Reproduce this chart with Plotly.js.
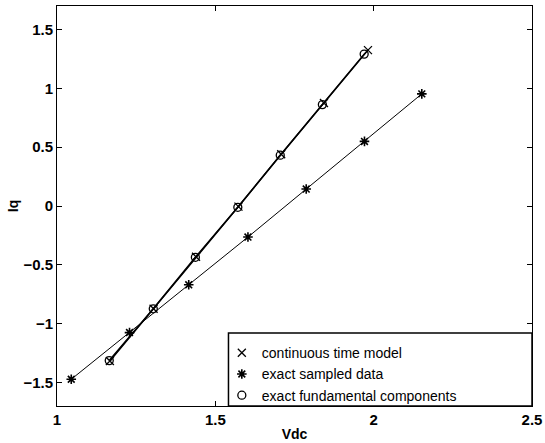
<!DOCTYPE html>
<html>
<head>
<meta charset="utf-8">
<script src="https://cdn.plot.ly/plotly-3.0.1.min.js"></script>
<style>
  html, body { margin: 0; padding: 0; background: #fff; }
  #plot { width: 545px; height: 443px; }
</style>
</head>
<body>
<div id="plot"></div>
<script>
// Iq versus Vdc for three ways of computing the converter response
const seriesNames = ['continuous time model', 'exact sampled data', 'exact fundamental components'];

// continuous time model
const vdcCont = [1.167, 1.305, 1.439, 1.573, 1.708, 1.843, 1.982];
const iqCont  = [-1.318, -0.873, -0.432, -0.005, 0.440, 0.876, 1.325];

// exact sampled data
const vdcSampled = [1.045, 1.229, 1.416, 1.603, 1.787, 1.971, 2.152];
const iqSampled  = [-1.473, -1.076, -0.670, -0.264, 0.144, 0.549, 0.953];

// exact fundamental components
const vdcFund = [1.165, 1.304, 1.437, 1.571, 1.705, 1.838, 1.970];
const iqFund  = [-1.314, -0.874, -0.436, -0.011, 0.432, 0.862, 1.291];

const xTicks = [1, 1.5, 2, 2.5];
const yTicks = [-1.5, -1, -0.5, 0, 0.5, 1, 1.5];

const FONT = 'Liberation Sans, Arial, Helvetica, sans-serif';

function lineTrace(x, y, w) {
  return { x: x, y: y, type: 'scatter', mode: 'lines',
           line: { color: '#000', width: w }, showlegend: false, hoverinfo: 'skip' };
}
function markerTrace(x, y, name, symbol, size, lw) {
  return { x: x, y: y, type: 'scatter', mode: 'markers', name: name,
           marker: { symbol: symbol, size: size, color: '#000',
                     line: { color: '#000', width: lw } } };
}

const traces = [
  lineTrace(vdcCont, iqCont, 1.5),
  lineTrace(vdcSampled, iqSampled, 1),
  lineTrace(vdcFund, iqFund, 1.5),
  markerTrace(vdcCont, iqCont, seriesNames[0], 'x-thin-open', 8, 1.3),
  markerTrace(vdcSampled, iqSampled, seriesNames[1], 'asterisk-open', 8, 1.6),
  markerTrace(vdcFund, iqFund, seriesNames[2], 'circle-open', 8, 1.3)
];

const axisCommon = {
  showgrid: false, zeroline: false,
  showline: true, linecolor: '#000', linewidth: 1, mirror: 'ticks',
  ticks: 'inside', ticklen: 5, tickwidth: 1, tickcolor: '#000',
  tickfont: { family: FONT, size: 15, color: '#000', weight: 'bold' }
};

const titleFont = { family: FONT, size: 14, color: '#000', weight: 'bold' };

const layout = {
  width: 545, height: 443,
  margin: { l: 57, r: 13, t: 6, b: 37 },
  paper_bgcolor: '#fff', plot_bgcolor: '#fff',
  font: { family: FONT, color: '#000' },
  xaxis: Object.assign({}, axisCommon, {
    range: [1, 2.5], tickvals: xTicks, ticktext: xTicks.map(String),
    title: { text: 'Vdc', font: titleFont, standoff: 2 }
  }),
  yaxis: Object.assign({}, axisCommon, {
    range: [-1.7, 1.7], tickvals: yTicks,
    ticktext: yTicks.map(v => (v < 0 ? '\u2212' + Math.abs(v) : String(v))),
    title: { text: 'Iq', font: titleFont, standoff: 1 }
  }),
  shapes: [{
    type: 'rect', xref: 'paper', yref: 'paper',
    x0: 0.361, x1: 1, y0: 0, y1: 0.1825,
    line: { color: '#000', width: 1.5 }, fillcolor: '#fff', layer: 'above'
  }],
  legend: {
    x: 0.347, xanchor: 'left', y: 0.172, yanchor: 'top',
    bgcolor: 'rgba(0,0,0,0)', borderwidth: 0,
    font: { family: FONT, size: 14, color: '#000' },
    tracegroupgap: 0
  },
  showlegend: true
};

Plotly.newPlot('plot', traces, layout, { displayModeBar: false, staticPlot: true });
</script>
</body>
</html>
